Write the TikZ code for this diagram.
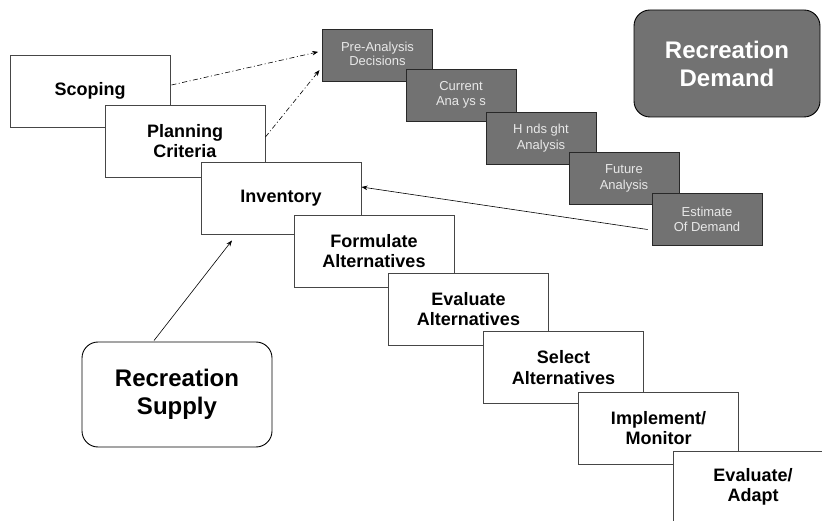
\documentclass[tikz,border=0pt]{standalone}
\usepackage{fontspec}
\setmainfont{Liberation Sans}
\usetikzlibrary{calc,arrows.meta}
\definecolor{taskgray}{RGB}{114,114,114}
\definecolor{taskedge}{RGB}{40,40,40}
\definecolor{stageedge}{RGB}{70,70,70}
\definecolor{tasktext}{RGB}{232,232,232}
\begin{document}
\begin{tikzpicture}[x=1pt,y=-1pt,
  stage/.style={draw=stageedge, line width=0.9pt, fill=white,
    minimum width=160pt, minimum height=72pt, inner sep=0pt, align=center,
    font=\fontsize{18}{20.5}\selectfont\bfseries},
  task/.style={draw=taskedge, line width=0.9pt, fill=taskgray,
    minimum width=110pt, minimum height=52pt, inner sep=0pt, align=center,
    text=tasktext, font=\fontsize{13}{15.5}\selectfont},
  source/.style={draw=black, rounded corners=16pt, line width=0.9pt,
    inner sep=0pt, align=center, font=\fontsize{24}{28}\selectfont\bfseries},
  flow/.style={-{Stealth[length=6pt,width=4.5pt]}, line width=0.6pt},
  hint/.style={flow, dash pattern=on 5pt off 2.5pt on 1pt off 2.5pt}]

% page area
\fill[white] (0,0) rectangle (822,521);
\clip (0,0) rectangle (822,521);

% planning steps, each one overlapping the previous
\node[stage] (scoping)   at (90,91)      {Scoping};
\node[stage] (planning)  at (185,141)    {Planning\\Criteria};
\node[stage] (inventory) at (281,198)    {Inventory};
\node[stage] (formulate) at (374,251)    {Formulate\\Alternatives};
\node[stage] (evalalt)   at (468.5,309)  {Evaluate\\Alternatives};
\node[stage] (select)    at (563.5,367.5){Select\\Alternatives};
\node[stage] (implement) at (658.5,428)  {Implement/\\Monitor};
\node[stage] (adapt)     at (753,487)    {Evaluate/\\Adapt};

% demand analysis steps
\node[task] (pre)       at (377.5,55)  {\raisebox{6pt}{\begin{tabular}{@{}c@{}}Pre-Analysis\\[-1.5pt]Decisions\end{tabular}}};
\node[task] (current)   at (461,95)    {Current\\Ana ys s};
\node[task] (hindsight) at (541,138)   {H nds ght\\Analysis};
\node[task] (future)    at (624,178.5) {Future\\Analysis};
\node[task] (estimate)  at (707,219.5) {Estimate\\Of Demand};

% sources
\node[source, fill=taskgray, text=white, minimum width=186pt, minimum height=107pt]
  (demand) at (727,63.5) {Recreation\\Demand};
\node[source, fill=white, minimum width=190pt, minimum height=105pt]
  (supply) at (177,394.5) {Recreation\\Supply};

% connectors
\draw[hint, shorten >=4pt] ($(scoping.east)+(1,-6)$) -- ($(pre.west)+(0,-4)$);
\draw[hint, shorten >=4pt] ($(planning.east)+(0,-4)$) -- ($(pre.west)+(0,12)$);
\draw[flow] ($(estimate.west)+(-4,10)$) -- ($(inventory.east)+(0,-11)$);
\draw[flow] ($(supply.north)+(-23,-1)$) -- ($(inventory.south)+(-49,6)$);
\end{tikzpicture}
\end{document}
